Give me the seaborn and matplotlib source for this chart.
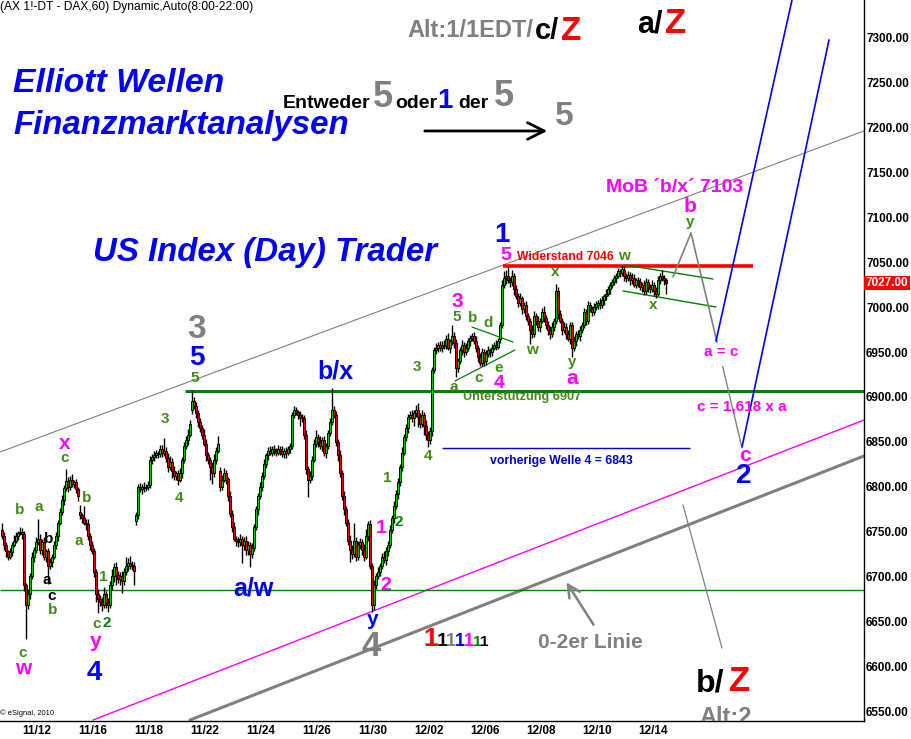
import numpy as np
import pandas as pd
import matplotlib
matplotlib.use("Agg")
import matplotlib.pyplot as plt
import matplotlib.transforms as mtransforms
import seaborn as sns

# ---------------------------------------------------------------- data
days = ["11/11", "11/12", "11/15", "11/16", "11/17", "11/18", "11/19", "11/22",
        "11/23", "11/24", "11/25", "11/26", "11/29", "11/30", "12/01", "12/02",
        "12/03", "12/06", "12/07", "12/08", "12/09", "12/10", "12/13", "12/14"]

day_open = [6752, 6747, 6716, 6772, 6672, 6762, 6838, 6885, 6818, 6730, 6840, 6876,
            6872, 6735, 6728, 6882, 6957, 6966, 6965, 6990, 6985, 6980, 7025, 7028]

# hourly closes, 8:00-22:00 (first day only partly visible)
closes = [
    [6745, 6735, 6728, 6722, 6727, 6735, 6740, 6745, 6748, 6750, 6747],
    [6690, 6668, 6680, 6700, 6722, 6730, 6738, 6742, 6730, 6738, 6722, 6728, 6712, 6716],
    [6722, 6735, 6745, 6760, 6772, 6785, 6798, 6806, 6800, 6808, 6803, 6805, 6797, 6790],
    [6768, 6765, 6760, 6758, 6745, 6735, 6728, 6705, 6680, 6675, 6672, 6668, 6680, 6670],
    [6668, 6690, 6700, 6710, 6702, 6697, 6700, 6695, 6705, 6712, 6715, 6712, 6712, 6706],
    [6768, 6800, 6797, 6800, 6798, 6800, 6802, 6830, 6833, 6835, 6837, 6836, 6842, 6838],
    [6840, 6832, 6822, 6828, 6818, 6812, 6815, 6808, 6815, 6830, 6845, 6852, 6858, 6870],
    [6895, 6890, 6882, 6872, 6865, 6858, 6848, 6835, 6830, 6822, 6815, 6830, 6840, 6848],
    [6800, 6808, 6815, 6808, 6790, 6770, 6755, 6742, 6740, 6738, 6742, 6735, 6740, 6730],
    [6735, 6725, 6732, 6755, 6775, 6790, 6800, 6812, 6825, 6835, 6840, 6838, 6842, 6840],
    [6838, 6842, 6840, 6836, 6840, 6838, 6842, 6845, 6880, 6885, 6883, 6880, 6876, 6878],
    [6858, 6820, 6808, 6812, 6830, 6848, 6855, 6850, 6845, 6852, 6838, 6845, 6860, 6872],
    [6885, 6880, 6850, 6835, 6815, 6790, 6775, 6760, 6740, 6730, 6725, 6740, 6722, 6735],
    [6738, 6730, 6722, 6745, 6758, 6712, 6668, 6690, 6700, 6705, 6712, 6722, 6718, 6728],
    [6735, 6752, 6765, 6778, 6792, 6805, 6822, 6838, 6855, 6865, 6878, 6880, 6876, 6882],
    [6885, 6878, 6870, 6880, 6868, 6858, 6852, 6862, 6930, 6952, 6955, 6958, 6954, 6957],
    [6958, 6965, 6955, 6962, 6968, 6960, 6932, 6940, 6952, 6958, 6950, 6955, 6962, 6966],
    [6968, 6962, 6955, 6945, 6938, 6950, 6940, 6948, 6952, 6950, 6955, 6958, 6956, 6962],
    [6980, 7025, 7032, 7035, 7030, 7028, 7035, 7020, 7012, 7005, 7010, 6998, 7002, 6990],
    [6985, 6975, 6970, 6990, 6985, 6978, 6985, 6995, 6988, 6980, 6975, 6970, 6978, 6985],
    [7018, 6992, 6985, 6975, 6978, 6970, 6965, 6980, 6955, 6962, 6970, 6968, 6975, 6980],
    [6995, 6985, 7002, 6998, 6995, 7000, 7003, 7005, 7002, 7008, 7012, 7015, 7020, 7025],
    [7028, 7032, 7035, 7040, 7038, 7042, 7035, 7032, 7036, 7030, 7033, 7025, 7030, 7028],
    [7022, 7025, 7018, 7028, 7022, 7020, 7025, 7018, 7015, 7030, 7035, 7032, 7030, 7027],
]

# upper / lower shadow lengths in index points
wick_hi = [
    [8, 4, 3, 2, 5, 3, 6, 4, 3, 5, 4],
    [4, 3, 6, 4, 5, 3, 6, 22, 5, 4, 6, 3, 4, 5],
    [3, 4, 5, 3, 4, 6, 4, 14, 5, 4, 6, 3, 4, 3],
    [8, 3, 14, 4, 6, 3, 5, 4, 3, 6, 4, 5, 8, 4],
    [4, 5, 8, 5, 6, 4, 5, 6, 4, 10, 6, 8, 5, 4],
    [4, 3, 4, 3, 5, 3, 4, 4, 3, 5, 4, 3, 5, 4],
    [14, 4, 5, 6, 4, 5, 3, 4, 6, 3, 5, 4, 6, 4],
    [12, 5, 4, 3, 5, 4, 6, 5, 4, 3, 5, 6, 4, 8],
    [4, 5, 6, 4, 3, 5, 4, 6, 3, 4, 5, 3, 4, 5],
    [4, 3, 5, 3, 4, 3, 5, 4, 6, 3, 4, 5, 3, 4],
    [3, 4, 3, 5, 3, 4, 3, 4, 3, 5, 4, 3, 4, 3],
    [4, 5, 3, 6, 4, 5, 8, 4, 6, 3, 5, 4, 3, 5],
    [25, 5, 4, 3, 6, 4, 5, 3, 4, 6, 5, 20, 4, 5],
    [5, 4, 6, 8, 4, 5, 3, 6, 4, 5, 3, 4, 6, 5],
    [4, 5, 3, 6, 4, 5, 3, 6, 4, 5, 3, 4, 6, 3],
    [6, 8, 4, 5, 3, 6, 4, 5, 3, 4, 5, 3, 4, 5],
    [5, 4, 6, 3, 12, 4, 5, 3, 4, 6, 3, 5, 4, 3],
    [3, 4, 6, 3, 4, 5, 3, 4, 5, 3, 4, 3, 5, 4],
    [4, 5, 8, 6, 10, 4, 6, 3, 5, 4, 6, 3, 4, 5],
    [4, 3, 5, 6, 4, 5, 3, 4, 6, 3, 5, 4, 6, 3],
    [8, 4, 5, 3, 6, 4, 5, 3, 4, 6, 3, 5, 4, 3],
    [4, 3, 5, 4, 3, 5, 4, 3, 5, 4, 3, 5, 4, 3],
    [3, 4, 3, 4, 3, 5, 4, 3, 4, 3, 5, 4, 3, 4],
    [4, 3, 5, 4, 3, 4, 5, 3, 4, 5, 3, 6, 4, 3],
]
wick_lo = [
    [3, 5, 6, 4, 3, 4, 2, 3, 4, 2, 5],
    [6, 38, 4, 5, 3, 6, 4, 3, 5, 6, 4, 6, 20, 4],
    [5, 3, 4, 6, 3, 4, 5, 3, 6, 4, 3, 5, 4, 6],
    [4, 5, 3, 6, 4, 5, 3, 6, 8, 16, 5, 6, 3, 5],
    [8, 3, 5, 6, 12, 4, 6, 14, 5, 3, 6, 4, 5, 16],
    [5, 4, 3, 5, 4, 3, 4, 3, 5, 4, 3, 4, 3, 5],
    [4, 5, 6, 3, 8, 5, 4, 6, 3, 5, 4, 3, 5, 3],
    [4, 3, 5, 6, 4, 5, 3, 6, 5, 14, 12, 4, 5, 3],
    [5, 4, 3, 5, 6, 4, 5, 3, 6, 5, 4, 20, 5, 6],
    [6, 14, 5, 4, 3, 6, 4, 5, 3, 4, 5, 3, 4, 5],
    [4, 3, 5, 3, 4, 6, 3, 4, 3, 4, 3, 5, 8, 4],
    [5, 6, 20, 4, 5, 3, 4, 6, 3, 5, 4, 6, 3, 4],
    [3, 4, 5, 6, 4, 5, 6, 4, 5, 14, 6, 3, 5, 4],
    [4, 6, 5, 3, 6, 4, 8, 5, 4, 3, 5, 4, 3, 5],
    [5, 3, 4, 5, 3, 6, 4, 5, 3, 4, 5, 3, 4, 8],
    [4, 12, 5, 3, 10, 6, 8, 4, 5, 3, 4, 5, 3, 4],
    [4, 5, 3, 6, 4, 5, 10, 4, 3, 5, 6, 3, 4, 5],
    [4, 3, 5, 6, 4, 3, 5, 4, 3, 5, 4, 3, 4, 3],
    [5, 3, 4, 6, 3, 5, 4, 6, 3, 5, 4, 6, 5, 4],
    [5, 16, 4, 3, 5, 4, 6, 3, 5, 4, 6, 5, 3, 4],
    [4, 5, 3, 6, 4, 5, 3, 6, 10, 4, 5, 3, 6, 4],
    [3, 5, 4, 3, 5, 4, 3, 5, 4, 3, 5, 4, 3, 5],
    [4, 3, 5, 3, 4, 3, 6, 4, 3, 5, 4, 3, 4, 5],
    [3, 5, 4, 3, 5, 4, 3, 6, 5, 3, 4, 3, 5, 12],
]

# analysis levels
support_level = 6907
resistance_level = 7046
prev_wave4_level = 6843
lower_support = 6685
last_price = 7027.00

price_ticks = list(range(6550, 7301, 50))

# ---------------------------------------------------------------- bars
BARS_PER_DAY = 14
rows = []
for d, (label, cl, hi, lo) in enumerate(zip(days, closes, wick_hi, wick_lo)):
    first = BARS_PER_DAY * (d - 1) + (BARS_PER_DAY - len(cl))
    prev = day_open[d]
    for j, c in enumerate(cl):
        o = prev
        rows.append(dict(day=label, idx=first + j, open=o, close=c,
                         high=max(o, c) + hi[j], low=min(o, c) - lo[j]))
        prev = c
bars = pd.DataFrame(rows)
bars["up"] = bars["close"] >= bars["open"]

# ---------------------------------------------------------------- style
sns.set_theme(style="white")
FONT = ["Liberation Sans", "DejaVu Sans"]
plt.rcParams["font.family"] = FONT
plt.rcParams["axes.unicode_minus"] = False

BLUE = "#0000ff"
MAG = "#ff00ff"
GRAY = "#808080"
OLIVE = "#438a16"
DKGREEN = "#008000"
RED = "#ff0000"

fig = plt.figure(figsize=(9.12, 7.39), dpi=100)
ax = fig.add_axes([0, 18 / 739, 864 / 912, 721 / 739])
ax.set_facecolor("white")
ax.set_xlim(-12, 420)
ax.set_ylim(6538.9, 7342.3)


def px(xp, yp):
    """screen-like position -> (bar index, price)"""
    return (xp - 24) / 2.0, 7300 - (yp - 38) * 750 / 673


def txt(xp, yp, s, color, size, ha="center", va="center", weight="bold",
        style="normal", **kw):
    x, y = px(xp, yp)
    return ax.text(x, y, s, color=color, fontsize=size, ha=ha, va=va,
                   fontweight=weight, fontstyle=style, family=FONT, **kw)


def seg(p0, p1, color, lw, **kw):
    sns.lineplot(x=[p0[0], p1[0]], y=[p0[1], p1[1]], ax=ax, color=color,
                 linewidth=lw, sort=False, estimator=None, legend=False, **kw)


# ---------------------------------------------------------------- channel lines
seg((-12, 6838.6), (420, 7196.4), GRAY, 0.8)                 # upper channel
seg((34.5, 6540), (420, 6874.3), MAG, 1.0)                    # magenta base line
seg((83, 6540), (420, 6834.2), GRAY, 2.2)                     # 0-2 line
ax.hlines(support_level, 80.5, 420, color=DKGREEN, lw=2.2)
ax.hlines(lower_support, -12, 420, color=DKGREEN, lw=1.0)
ax.hlines(resistance_level, 239.5, 364.5, color=RED, lw=2.6)
ax.hlines(prev_wave4_level, 209, 333, color="#0000cc", lw=1.0)

# triangle and flag
seg((224, 6977.9), (244.5, 6961.2), DKGREEN, 0.9)
seg((215.5, 6917.8), (245.5, 6952.3), DKGREEN, 0.9)
seg((300.5, 7047.0), (344.5, 7031.4), DKGREEN, 1.0)
seg((299.5, 7018.1), (346, 7000.2), DKGREEN, 1.0)

# ---------------------------------------------------------------- candles
ax.vlines(bars["idx"], bars["low"], bars["high"], color="black", lw=1.0, zorder=3)
for up, color in [(True, "#00c800"), (False, "#e00000")]:
    sub = bars[bars["up"] == up]
    ax.bar(sub["idx"], (sub["close"] - sub["open"]).abs().clip(lower=0.8),
           bottom=np.minimum(sub["open"], sub["close"]), width=1.0,
           color=color, edgecolor="black", linewidth=0.7, zorder=4)

# ---------------------------------------------------------------- projection
sns.lineplot(x=[324.5, 333.5, 346.5], y=[7033.7, 7082.7, 6961.2], ax=ax,
             color=GRAY, linewidth=1.2, sort=False, estimator=None)
seg((349.35, 6933.7), (358.85, 6844.5), GRAY, 1.0)
seg((329.5, 6779.6), (349, 6620.2), GRAY, 0.9)
seg((346, 6962.3), (384, 7342.3), BLUE, 1.2)
seg((359, 6844.2), (402.5, 7297.8), BLUE, 1.2)
ax.annotate("", xy=px(565, 580), xytext=px(595, 627),
            arrowprops=dict(arrowstyle="->", color=GRAY, lw=1.8,
                            mutation_scale=22))
ax.annotate("", xy=px(550, 131), xytext=px(422, 131),
            arrowprops=dict(arrowstyle="->", color="black", lw=2.0,
                            mutation_scale=30), annotation_clip=False)

# ---------------------------------------------------------------- axes
for side in ["left", "top"]:
    ax.spines[side].set_visible(False)
for side in ["right", "bottom"]:
    ax.spines[side].set_color("black")
    ax.spines[side].set_linewidth(1.0)
ax.yaxis.tick_right()
ax.set_yticks(price_ticks)
ax.set_yticklabels([f"{v:.2f}" for v in price_ticks])
day_centers = [BARS_PER_DAY * (d - 1) + 6.5 for d in range(len(days))]
ax.set_xticks(day_centers[1::2])
ax.set_xticklabels(days[1::2])
ax.tick_params(axis="both", length=0, labelsize=8.5, colors="black")
ax.tick_params(axis="y", pad=1.5)
ax.tick_params(axis="x", pad=3)
for lab in ax.get_xticklabels() + ax.get_yticklabels():
    lab.set_fontweight("bold")
ax.grid(False)

box_tr = mtransforms.blended_transform_factory(ax.transAxes, ax.transData)
ax.text(1.002, last_price, f"{last_price:.2f}", transform=box_tr, ha="left",
        va="center", color="white", fontsize=8.5, fontweight="bold",
        bbox=dict(boxstyle="square,pad=0.12", fc="#ff0000", ec="none"))

# ---------------------------------------------------------------- headings
txt(0, 7, "(AX 1!-DT - DAX,60) Dynamic,Auto(8:00-22:00)", "black", 8.65,
    ha="left", weight="normal")
txt(13, 84, "Elliott Wellen", BLUE, 24.3, ha="left", style="italic")
txt(13, 126, "Finanzmarktanalysen", BLUE, 23.8, ha="left", style="italic")
txt(93, 253, "US Index (Day) Trader", BLUE, 23.8, ha="left", style="italic")
txt(0, 713, "\u00a9 eSignal, 2010", "black", 5.4, ha="left", weight="normal")

txt(407, 37, "Alt:1/1EDT/", GRAY, 17, ha="left", va="baseline")
txt(535, 39, "c/", "black", 21, ha="left", va="baseline")
txt(561, 40, "Z", RED, 24, ha="left", va="baseline")
txt(637, 33, "a/", "black", 22, ha="left", va="baseline")
txt(665, 33, "Z", RED, 25, ha="left", va="baseline")
txt(696, 691, "b/", "black", 23, ha="left", va="baseline")
txt(729, 691, "Z", RED, 25, ha="left", va="baseline")
txt(699, 724, "Alt:2", GRAY, 17, ha="left", va="baseline", clip_on=True)

txt(283, 108, "Entweder", "black", 14, ha="left", va="baseline")
txt(383, 107, "5", GRAY, 26, va="baseline")
txt(395, 108, "oder", "black", 14, ha="left", va="baseline")
txt(445, 108, "1", BLUE, 20, va="baseline")
txt(458, 108, "der", "black", 14, ha="left", va="baseline")
txt(504, 106, "5", GRAY, 26, va="baseline")
txt(564, 125, "5", GRAY, 24, va="baseline")

txt(606, 188, "MoB \u00b4b/x\u00b4 7103", MAG, 14, ha="left")
txt(517, 257, "Widerstand 7046", RED, 8.7, ha="left")
txt(463, 397, "Unterst\u00fctzung 6907", OLIVE, 9.2, ha="left")
txt(490, 461, "vorherige Welle 4 = 6843", "#0000cc", 8.8, ha="left")
txt(721, 352, "a = c", MAG, 11)
txt(742, 406, "c = 1,618 x a", MAG, 11)
txt(590, 642, "0-2er Linie", GRAY, 15)

# ---------------------------------------------------------------- wave counts
counts = [
    # (x, y, text, colour, size)
    (20, 510, "b", OLIVE, 11), (39, 507, "a", OLIVE, 11), (49, 539, "b", "black", 11),
    (47, 580, "a", "black", 11), (52, 596, "c", "black", 11), (53, 610, "b", OLIVE, 11),
    (23, 653, "c", OLIVE, 11), (23, 668, "w", MAG, 15), (65, 443, "x", MAG, 15),
    (65, 458, "c", OLIVE, 11), (87, 498, "b", OLIVE, 11), (79, 541, "a", OLIVE, 11),
    (103, 577, "1", OLIVE, 11), (97, 624, "c", OLIVE, 11), (107, 623, "2", DKGREEN, 11),
    (96, 641, "y", MAG, 15), (94, 673, "4", BLUE, 20),
    (165, 419, "3", OLIVE, 11), (179, 498, "4", OLIVE, 11), (195, 378, "5", OLIVE, 11),
    (197, 358, "5", BLUE, 20), (197, 330, "3", GRAY, 24),
    (253, 588, "a/w", BLUE, 18), (335, 372, "b/x", BLUE, 18),
    (373, 619, "y", BLUE, 15), (371, 646, "4", GRAY, 25),
    (381, 528, "1", MAG, 14), (386, 585, "2", MAG, 14), (399, 522, "2", DKGREEN, 11),
    (387, 478, "1", OLIVE, 11), (417, 367, "3", OLIVE, 11), (428, 456, "4", OLIVE, 11),
    (457, 302, "3", MAG, 15), (457, 317, "5", OLIVE, 11), (473, 318, "b", OLIVE, 11),
    (488, 323, "d", OLIVE, 11), (479, 378, "c", OLIVE, 11), (499, 368, "e", OLIVE, 11),
    (454, 387, "a", OLIVE, 11), (499, 383, "4", MAG, 14),
    (502, 235, "1", BLUE, 20), (506, 256, "5", MAG, 14),
    (555, 272, "x", OLIVE, 11), (532, 350, "w", OLIVE, 11), (572, 362, "y", OLIVE, 11),
    (572, 378, "a", MAG, 15),
    (624, 256, "w", OLIVE, 11), (653, 305, "x", OLIVE, 11),
    (690, 207, "b", MAG, 15), (690, 222, "y", OLIVE, 11),
    (745, 455, "c", MAG, 15), (744, 476, "2", BLUE, 20),
]
for xp, yp, s, c, size in counts:
    txt(xp, yp, s, c, size)

# degree markers
for xp, c, size in [(431, RED, 19), (442, "black", 14), (451, GRAY, 13),
                    (460, BLUE, 13), (469, MAG, 13), (477, DKGREEN, 11),
                    (484, "black", 11)]:
    txt(xp, 646, "1", c, size, va="baseline")

fig.savefig("out.png", dpi=100, facecolor="white")
